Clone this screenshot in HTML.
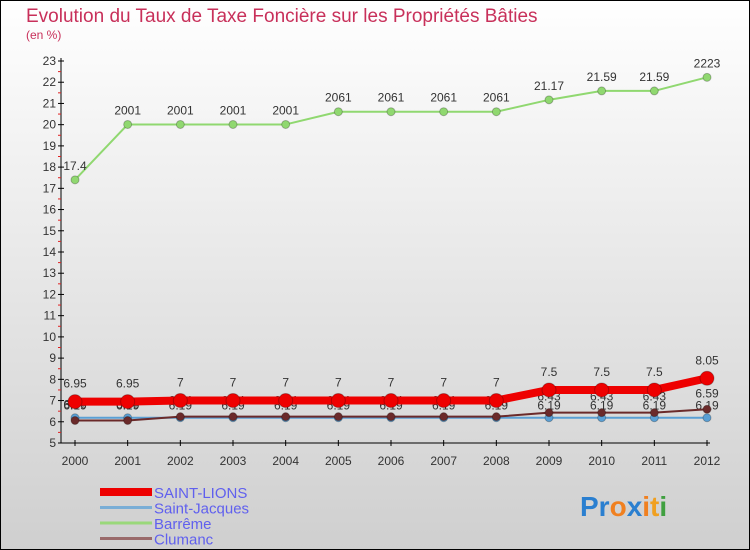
<!DOCTYPE html>
<html><head><meta charset="utf-8"><style>
body{margin:0;}
#wrap{width:750px;height:550px;position:relative;overflow:hidden;font-family:"Liberation Sans",sans-serif;}
svg text{font-family:"Liberation Sans",sans-serif;}
</style></head><body>
<div id="wrap">
<svg id="chart" width="750" height="550" xmlns="http://www.w3.org/2000/svg">
<defs><linearGradient id="bg" x1="0" y1="0" x2="0" y2="1"><stop offset="0" stop-color="#ffffff"/><stop offset="1" stop-color="#cfcfcf"/></linearGradient></defs>
<rect x="0" y="0" width="750" height="550" fill="url(#bg)" stroke="#000" stroke-width="2"/>
<text x="26" y="22" font-size="19" fill="#c8305a">Evolution du Taux de Taxe Foncière sur les Propriétés Bâties</text>
<text x="26" y="39" font-size="12" fill="#c8305a">(en %)</text>
<g id="axes"></g><g id="series"></g><g id="legend"></g>
<g font-size="28" font-weight="bold">
<text x="580" y="516"><tspan fill="#2a7fd0">Pr</tspan><tspan fill="#f08020">o</tspan><tspan fill="#2a7fd0">x</tspan><tspan fill="#f08020">i</tspan><tspan fill="#f0a020">t</tspan><tspan fill="#40a040">i</tspan></text>
</g>
</svg>
</div>
<script>
const years=[2000,2001,2002,2003,2004,2005,2006,2007,2008,2009,2010,2011,2012];
const saintLions=[6.95,6.95,7,7,7,7,7,7,7,7.5,7.5,7.5,8.05];
const saintJacques=[6.19,6.19,6.19,6.19,6.19,6.19,6.19,6.19,6.19,6.19,6.19,6.19,6.19];
const barreme=[17.4,20.01,20.01,20.01,20.01,20.61,20.61,20.61,20.61,21.17,21.59,21.59,22.23];
const clumanc=[6.06,6.06,6.24,6.24,6.24,6.24,6.24,6.24,6.24,6.43,6.43,6.43,6.59];
const yTicks=[5,6,7,8,9,10,11,12,13,14,15,16,17,18,19,20,21,22,23];
const NS='http://www.w3.org/2000/svg';
const xs=i=>75+i*(707-75)/(years.length-1);
const ys=v=>443-(v-5)*(443-61)/18;
function mk(t,a,p){const e=document.createElementNS(NS,t);for(const k in a)e.setAttribute(k,a[k]);p.appendChild(e);return e;}
const ax=document.getElementById('axes');
const yl=mk('line',{x1:61,y1:58,x2:61,y2:443,stroke:'#000'},ax);


const xl=mk('line',{x1:61,y1:443,x2:710,y2:443,stroke:'#000'},ax);


yTicks.forEach(v=>{
 mk('line',{x1:58,y1:ys(v),x2:64,y2:ys(v),stroke:'#000'},ax);
 if(v<23) mk('line',{x1:58,y1:ys(v+0.5),x2:61,y2:ys(v+0.5),stroke:'#e02020'},ax);
 const t=mk('text',{x:56,y:ys(v)+4,'text-anchor':'end','font-size':12,fill:'#333'},ax);
 t.textContent=v;
 
 
});
years.forEach((y,i)=>{
 mk('line',{x1:xs(i),y1:440,x2:xs(i),y2:446,stroke:'#000'},ax);
 const t=mk('text',{x:xs(i),y:465,'text-anchor':'middle','font-size':12,fill:'#333'},ax);
 t.textContent=y;
 
 
});
const sg=document.getElementById('series');
function series(vals,color,w,r,name,labelDy){
 const g=mk('g',{},sg);
 
 
 const pl=mk('polyline',{points:vals.map((v,i)=>xs(i)+','+ys(v)).join(' '),fill:'none',stroke:color,'stroke-width':w,'stroke-linejoin':'round'},g);
 
 
 vals.forEach((v,i)=>{
  const c=mk('circle',{cx:xs(i),cy:ys(v),r:r,fill:color,stroke:'rgba(0,0,0,0.25)'},g);
  
  
  const t=mk('text',{x:xs(i),y:ys(v)+labelDy,'text-anchor':'middle','font-size':12,fill:'#333'},g);
  t.textContent=String(v).replace(/^20\.0?1$/,'2001').replace('20.61','2061').replace('22.23','2223');
  
  
 });
}
series(saintJacques,'#5a9fd4',2,4,'saint-jacques',-8);
series(barreme,'#90d870',2,4,'barreme',-10);
series(clumanc,'#6b2a2a',2,4,'clumanc',-12);
series(saintLions,'#ee0000',8,7,'saint-lions',-14);
const lg=document.getElementById('legend');
const items=[['SAINT-LIONS','#ee0000',8],['Saint-Jacques','#7aaed6',3],['Barrême','#9ad87a',3],['Clumanc','#9a6a6a',3]];
items.forEach((it,i)=>{
 const g=mk('g',{},lg);
 
 
 const y=492+i*15.5;
 mk('line',{x1:100,y1:y,x2:152,y2:y,stroke:it[1],'stroke-width':it[2]},g);
 const t=mk('text',{x:154,y:y+6,'font-size':15,fill:'#6060ee'},g);
 t.textContent=it[0];
});
</script>
</body></html>
